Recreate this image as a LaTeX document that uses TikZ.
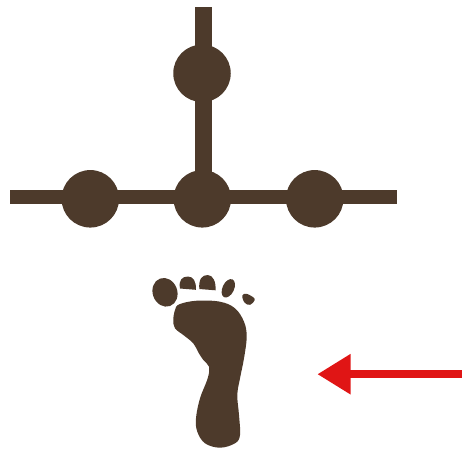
\documentclass[tikz,border=0pt]{standalone}
\usetikzlibrary{arrows.meta}
\definecolor{bark}{HTML}{4D3A2B}
\definecolor{signal}{HTML}{E01515}

\begin{document}
\begin{tikzpicture}[x=1pt,y=-1pt]
    \path[use as bounding box] (0,0) rectangle (462,450);
    \tikzset{
      dot/.style={circle,fill=bark,inner sep=0pt,minimum size=57.5pt},
      rail/.style={draw=bark,line width=14.4pt},
      stem/.style={draw=bark,line width=16.4pt},
      footpart/.style={fill=bark,smooth cycle,tension=.6}
    }
    \coordinate (railleft) at (10,197.2);
    \coordinate (railright) at (397,197.2);
    \coordinate (stemtop) at (203.5,7);
    \coordinate (stemfoot) at (203.5,197.2);
    \coordinate (arrowtail) at (462,374.2);
    \coordinate (arrowhead) at (317.3,374.2);
    \draw[rail] (railleft) -- (railright);
    \draw[stem] (stemtop) -- (stemfoot);
    \foreach \name/\x/\y in {topdot/202/73.3,leftdot/90.3/198.8,middot/202.3/198.8,rightdot/314.7/198.8} {
      \node[dot] (\name) at (\x,\y) {};
    }
    \draw[signal,line width=8.3pt,-{Triangle[length=33.4pt,width=38.3pt]}] (arrowtail) -- (arrowhead);
    \fill[footpart] plot coordinates {(179.3,304.3) (196.7,300.7) (220,301.7) (235,308.3) (244,321.7) (246.7,336.7) (244,358.3) (240,378.3) (237.3,395) (239,415) (240,435) (235,443.3) (220,447.7) (205,443.3) (197.3,431.7) (196,418.3) (200,398.3) (207.7,378.3) (209,366.7) (203.3,360) (198.3,352.3) (193.3,343.3) (183.3,335) (175,328.3) (173.3,320) (175,310)};
    \fill[bark,rotate around={20:(165,292.3)}] (165,292.3) ellipse (12.3 and 14.6);
    \fill[bark] (180,288.5) .. controls (178.5,280) and (182,276.5) .. (188,276.5) .. controls (193.5,276.5) and (196.5,282) .. (195.8,289.8) -- cycle;
    \fill[bark] (199.3,289) .. controls (198.5,279) and (202,275) .. (207.7,275) .. controls (213,275) and (216.2,282) .. (215.5,290.3) -- cycle;
    \fill[bark,rotate around={-25:(228.3,288.3)}] (228.3,288.3) ellipse (5.8 and 9.8);
    \fill[footpart] plot coordinates {(242.3,295.5) (246.7,293.8) (254.7,299) (250,304.8) (244.5,302.5)};
  \end{tikzpicture}
\end{document}
